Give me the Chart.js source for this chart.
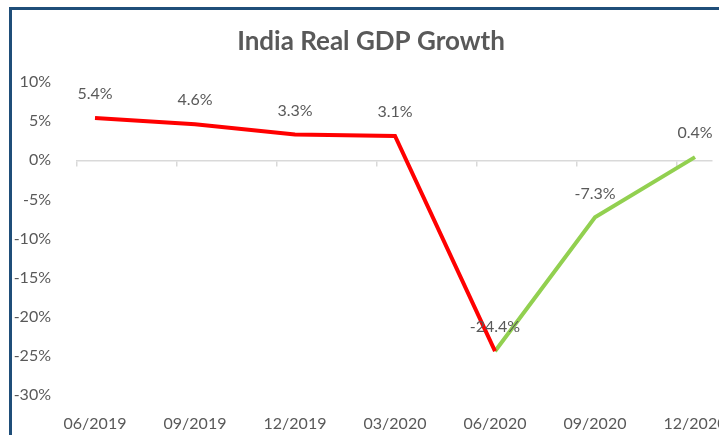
<!DOCTYPE html>
<html>
<head>
<meta charset="utf-8">
<script src="https://cdn.jsdelivr.net/npm/chart.js@4/dist/chart.umd.min.js"></script>
<style>
  html, body { margin: 0; padding: 0; background: #fff; overflow: hidden; }
  #wrap { position: relative; width: 740px; height: 435px; }
  #frame { position: absolute; left: 9px; top: 7px; width: 740px; height: 440px;
           border-left: 3px solid #1F4E79; border-top: 3px solid #1F4E79; pointer-events: none; }
</style>
</head>
<body>
<div id="wrap">
  <canvas id="gdpChart" width="740" height="435"></canvas>
  <div id="frame"></div>
</div>
<script>
const quarters = ['06/2019', '09/2019', '12/2019', '03/2020', '06/2020', '09/2020', '12/2020'];
const growth = [5.4, 4.6, 3.3, 3.1, -24.4, -7.3, 0.4];
const fallSeries = [5.4, 4.6, 3.3, 3.1, -24.4, null, null];
const recoverySeries = [null, null, null, null, -24.4, -7.3, 0.4];
const yTicks = [10, 5, 0, -5, -10, -15, -20, -25, -30];
const chartTitle = 'India Real GDP Growth';

const textColor = '#595959';
const fontFamily = 'Lato, "Open Sans", sans-serif';

function toPoints(values) {
    return values.map((v, i) => ({ x: i, y: v }));
}

// title + value labels above each point
const labelsPlugin = {
    id: 'labelsPlugin',
    afterDraw(chart) {
        const ctx = chart.ctx;
        const xs = chart.scales.x;
        const ys = chart.scales.y;
        ctx.save();
        ctx.textAlign = 'center';
        ctx.textBaseline = 'middle';
        ctx.fillStyle = textColor;
        ctx.font = 'bold 26px ' + fontFamily;
        ctx.fillText(chartTitle, 371, 42);
        ctx.font = '16px ' + fontFamily;
        growth.forEach((v, i) => {
            ctx.fillText(v.toFixed(1) + '%', xs.getPixelForValue(i), ys.getPixelForValue(v) - 24);
        });
        ctx.restore();
    }
};

new Chart(document.getElementById('gdpChart').getContext('2d'), {
    type: 'line',
    data: {
        datasets: [
            {
                data: toPoints(fallSeries),
                borderColor: '#FF0000',
                borderWidth: 4,
                pointRadius: 0,
                spanGaps: false,
                order: 1
            },
            {
                data: toPoints(recoverySeries),
                borderColor: '#92D050',
                borderWidth: 4,
                pointRadius: 0,
                spanGaps: false,
                order: 2
            }
        ]
    },
    options: {
        responsive: false,
        animation: false,
        layout: { padding: { left: 0, right: 28, top: 82, bottom: 0 } },
        plugins: {
            legend: { display: false },
            tooltip: { enabled: false },
            title: { display: false }
        },
        scales: {
            x: {
                type: 'linear',
                position: 'bottom',
                min: -0.18,
                max: 6.17,
                afterBuildTicks: (scale) => { scale.ticks = quarters.map((q, i) => ({ value: i })); },
                afterFit: (scale) => { scale.height = 40; },
                grid: { display: false },
                border: { display: false },
                ticks: {
                    autoSkip: false,
                    maxRotation: 0,
                    padding: 11,
                    color: textColor,
                    font: { family: fontFamily, size: 16 },
                    callback: (v) => quarters[v]
                }
            },
            xAxisLine: {
                type: 'linear',
                axis: 'x',
                position: { y: 0 },
                min: -0.18,
                max: 6.17,
                afterBuildTicks: (scale) => { scale.ticks = quarters.map((q, i) => ({ value: i - 0.18 })); },
                grid: { drawOnChartArea: false, drawTicks: true, tickLength: 5, color: '#D9D9D9', lineWidth: 1.5 },
                border: { display: true, color: '#D9D9D9', width: 1.5 },
                ticks: { display: false }
            },
            y: {
                min: -30,
                max: 10,
                afterBuildTicks: (scale) => { scale.ticks = yTicks.map(v => ({ value: v })); },
                afterFit: (scale) => { scale.width = 77; },
                grid: { display: false },
                border: { display: false },
                ticks: {
                    padding: 18,
                    color: textColor,
                    font: { family: fontFamily, size: 16 },
                    callback: (v) => v + '%'
                }
            }
        }
    },
    plugins: [labelsPlugin]
});
</script>
</body>
</html>
